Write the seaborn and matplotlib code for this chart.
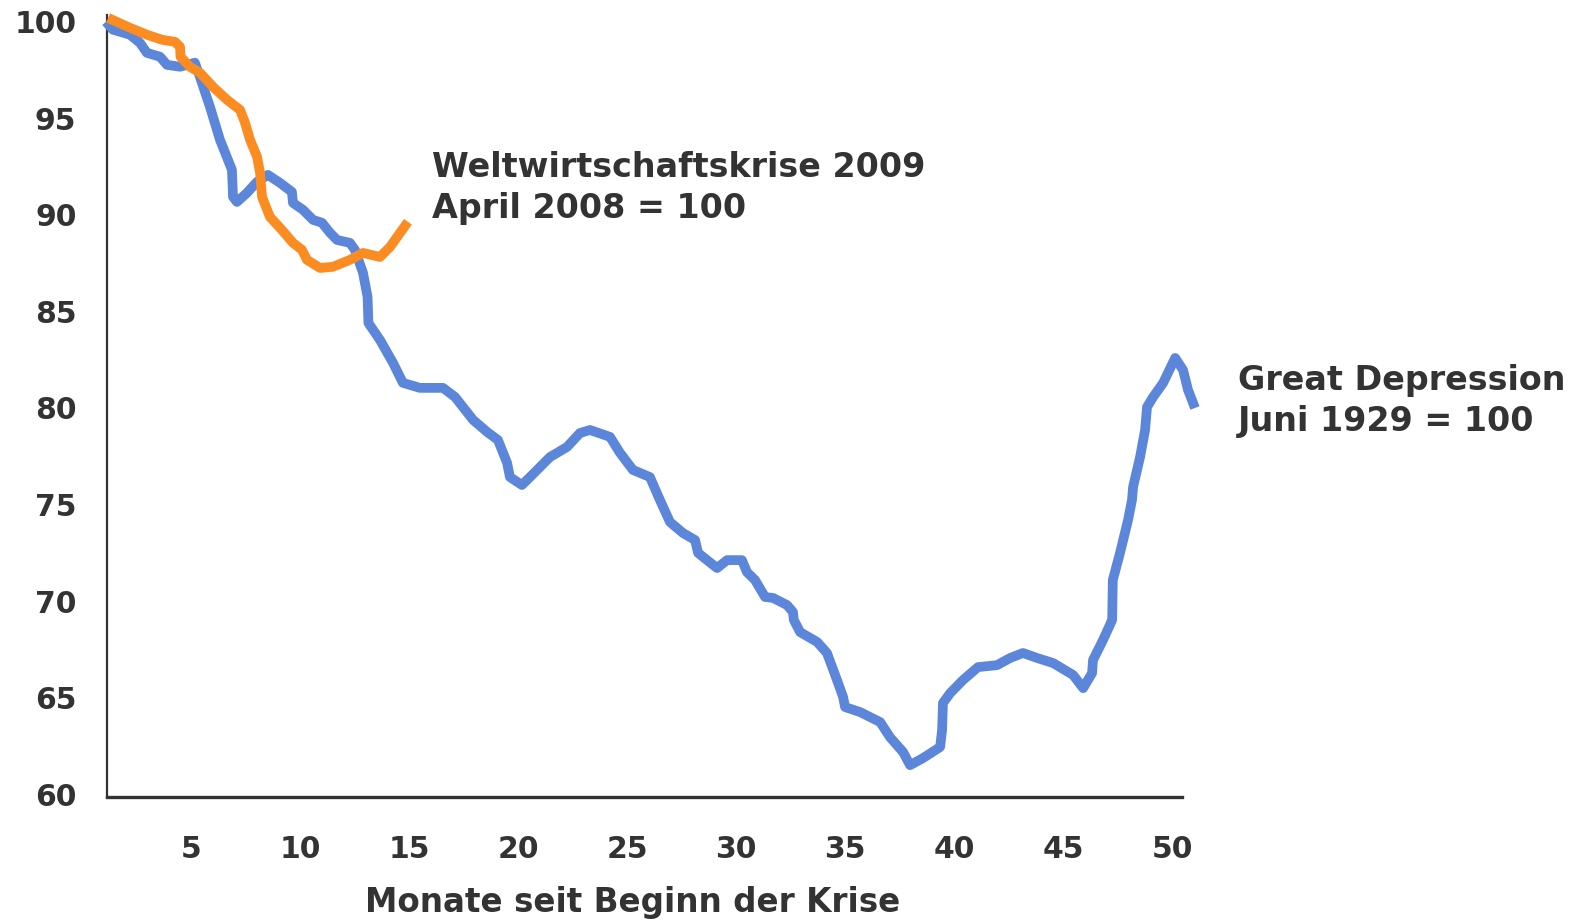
import matplotlib
matplotlib.use("Agg")
import matplotlib.pyplot as plt
import seaborn as sns
import pandas as pd

# Great Depression (Juni 1929 = 100)
gd_month = [1.1, 1.42, 2.20, 2.66, 2.98, 3.58, 3.90, 4.50, 5.18, 5.41, 5.87, 6.33, 6.88, 6.93, 7.11,
            7.57, 8.03, 8.53, 9.08, 9.63, 9.68, 10.14, 10.60, 11.01, 11.38, 11.70, 12.29, 12.52, 12.89,
            13.10, 13.14, 13.67, 14.27, 14.72, 15.50, 16.56, 17.11, 17.94, 18.58, 19.08, 19.50, 19.63,
            20.18, 20.55, 21.47, 22.25, 22.84, 23.30, 24.22, 24.68, 25.27, 26.05, 26.51, 26.97, 27.57,
            28.12, 28.26, 28.67, 29.13, 29.59, 30.27, 30.50, 30.87, 31.33, 31.70, 32.34, 32.61, 32.65,
            32.94, 33.72, 34.17, 34.63, 34.91, 35.00, 35.69, 36.61, 37.06, 37.66, 37.98, 38.58, 39.36,
            39.45, 39.49, 39.82, 40.41, 41.10, 41.97, 42.57, 43.16, 43.81, 44.54, 45.46, 45.92, 46.33,
            46.37, 46.83, 47.25, 47.28, 47.61, 47.98, 48.16, 48.21, 48.53, 48.76, 48.85, 49.13, 49.59,
            50.14, 50.50, 50.73, 51.05]
gd_index = [100.0, 99.59, 99.33, 98.91, 98.39, 98.19, 97.77, 97.67, 97.88, 97.15, 95.60, 93.89, 92.33,
            90.93, 90.67, 91.14, 91.71, 92.07, 91.66, 91.19, 90.62, 90.26, 89.74, 89.59, 89.07, 88.70,
            88.55, 88.19, 87.00, 85.75, 84.40, 83.52, 82.33, 81.30, 81.04, 81.04, 80.57, 79.38, 78.76,
            78.34, 77.15, 76.42, 76.01, 76.42, 77.46, 77.98, 78.70, 78.86, 78.50, 77.67, 76.79, 76.42,
            75.23, 74.09, 73.52, 73.16, 72.49, 72.12, 71.71, 72.12, 72.12, 71.50, 71.09, 70.21, 70.16,
            69.79, 69.43, 69.02, 68.39, 67.88, 67.31, 65.91, 65.03, 64.51, 64.25, 63.73, 62.95, 62.18,
            61.50, 61.87, 62.44, 63.32, 64.72, 65.23, 65.91, 66.58, 66.68, 67.05, 67.31, 67.05, 66.79,
            66.17, 65.49, 66.27, 66.94, 67.98, 69.02, 71.09, 72.49, 74.20, 75.23, 75.91, 77.46, 78.86,
            80.05, 80.57, 81.30, 82.59, 81.97, 80.93, 80.00]

# Weltwirtschaftskrise 2009 (April 2008 = 100)
wk_month = [1.2, 2.20, 2.98, 3.67, 4.27, 4.50, 4.52, 4.95, 5.41, 6.01, 6.65, 7.25, 7.48, 7.71, 8.03,
            8.17, 8.26, 8.62, 9.17, 9.68, 10.09, 10.32, 10.92, 11.51, 12.29, 12.89, 13.67, 14.13, 14.95]
wk_index = [100.2, 99.69, 99.33, 99.07, 98.96, 98.70, 98.19, 97.67, 97.36, 96.63, 95.96, 95.44, 94.77,
            93.89, 93.01, 92.18, 90.93, 89.90, 89.22, 88.55, 88.19, 87.67, 87.25, 87.31, 87.67, 88.03,
            87.82, 88.34, 89.64]

x_ticks = [5, 10, 15, 20, 25, 30, 35, 40, 45, 50]
y_ticks = [60, 65, 70, 75, 80, 85, 90, 95, 100]
x_label = "Monate seit Beginn der Krise"
label_gd = "Great Depression\nJuni 1929 = 100"
label_wk = "Weltwirtschaftskrise 2009\nApril 2008 = 100"

BLUE = "#5B86D9"
ORANGE = "#FB8C22"
TEXT = "#333333"

sns.set_style("white")
plt.rcParams["font.family"] = ["DejaVu Sans"]

fig = plt.figure(figsize=(15.69, 9.21), dpi=100)
ax = fig.add_axes([0.0682, 0.1346, 0.6851, 0.8491])

df_gd = pd.DataFrame({"Monat": gd_month, "Index": gd_index})
df_wk = pd.DataFrame({"Monat": wk_month, "Index": wk_index})

sns.lineplot(data=df_gd, x="Monat", y="Index", ax=ax, sort=False, color=BLUE, linewidth=7,
             solid_capstyle="butt", solid_joinstyle="round", clip_on=False, zorder=3)
sns.lineplot(data=df_wk, x="Monat", y="Index", ax=ax, sort=False, color=ORANGE, linewidth=7,
             solid_capstyle="butt", solid_joinstyle="round", clip_on=False, zorder=4)

ax.set_xlim(1.15, 50.45)
ax.set_ylim(59.85, 100.35)
ax.set_xticks(x_ticks)
ax.set_yticks(y_ticks)
ax.tick_params(axis="both", length=0, labelsize=21.5, labelcolor=TEXT)
ax.tick_params(axis="x", pad=27)
ax.tick_params(axis="y", pad=22)
for lab in ax.get_xticklabels() + ax.get_yticklabels():
    lab.set_fontweight("bold")

ax.set_xlabel(x_label, fontsize=23.5, fontweight="bold", color=TEXT, va="center")
ax.xaxis.set_label_coords(0.489, -0.135)
ax.set_ylabel("")

for side in ["top", "right"]:
    ax.spines[side].set_visible(False)
ax.spines["left"].set_color(TEXT)
ax.spines["left"].set_linewidth(1.6)
ax.spines["bottom"].set_color(TEXT)
ax.spines["bottom"].set_linewidth(2.4)

ax.text(16.05, 91.4, label_wk, fontsize=24, fontweight="bold", color=TEXT,
        ha="left", va="center", linespacing=1.3, clip_on=False)
ax.text(53.0, 80.35, label_gd, fontsize=24, fontweight="bold", color=TEXT,
        ha="left", va="center", linespacing=1.3, clip_on=False)

fig.savefig("out.png", dpi=100)
